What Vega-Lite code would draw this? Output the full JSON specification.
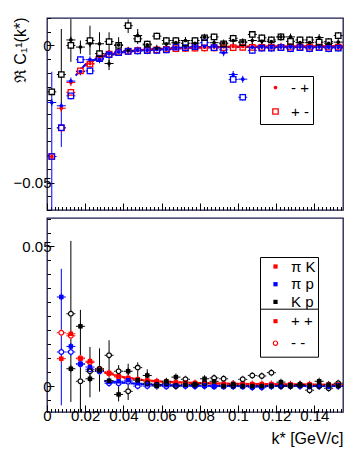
{
"$schema":"https://vega.github.io/schema/vega-lite/v6.json",
"padding":{"left":11,"top":16,"right":5,"bottom":5},
"bounds":"flush",
"spacing":8,
"config":{"font":"Liberation Sans","view":{"stroke":"#1a1a4a","strokeWidth":1.3},"axis":{"grid":false,"labelFont":"Liberation Sans","titleFont":"Liberation Sans"},"legend":{"labelFont":"Liberation Sans"}},
"resolve":{"scale":{"color":"independent","fill":"independent","stroke":"independent","shape":"independent"}},
"datasets":{
"top":[
{"k":0.0025,"s":"π K","c":"- +","v":-0.0405},{"k":0.0075,"s":"π K","c":"- +","v":-0.0229},{"k":0.0125,"s":"π K","c":"- +","v":-0.0135},{"k":0.0175,"s":"π K","c":"- +","v":-0.0096},{"k":0.0225,"s":"π K","c":"- +","v":-0.0066},{"k":0.0275,"s":"π K","c":"- +","v":-0.0042},{"k":0.0325,"s":"π K","c":"- +","v":-0.003},{"k":0.0375,"s":"π K","c":"- +","v":-0.0024},{"k":0.0425,"s":"π K","c":"- +","v":-0.002},{"k":0.0475,"s":"π K","c":"- +","v":-0.0018},{"k":0.0525,"s":"π K","c":"- +","v":-0.0016},{"k":0.0575,"s":"π K","c":"- +","v":-0.0014},{"k":0.0625,"s":"π K","c":"- +","v":-0.0012},{"k":0.0675,"s":"π K","c":"- +","v":-0.001},{"k":0.0725,"s":"π K","c":"- +","v":-0.0009},{"k":0.0775,"s":"π K","c":"- +","v":-0.0008},{"k":0.0825,"s":"π K","c":"- +","v":-0.0007},{"k":0.0875,"s":"π K","c":"- +","v":-0.0006},{"k":0.0925,"s":"π K","c":"- +","v":-0.0005},{"k":0.0975,"s":"π K","c":"- +","v":-0.0004},{"k":0.1025,"s":"π K","c":"- +","v":-0.0004},{"k":0.1075,"s":"π K","c":"- +","v":-0.0004},{"k":0.1125,"s":"π K","c":"- +","v":-0.0004},{"k":0.1175,"s":"π K","c":"- +","v":-0.0003},{"k":0.1225,"s":"π K","c":"- +","v":-0.0003},{"k":0.1275,"s":"π K","c":"- +","v":-0.0003},{"k":0.1325,"s":"π K","c":"- +","v":-0.0003},{"k":0.1375,"s":"π K","c":"- +","v":-0.0003},{"k":0.1425,"s":"π K","c":"- +","v":-0.0003},{"k":0.1475,"s":"π K","c":"- +","v":-0.0002},{"k":0.1525,"s":"π K","c":"- +","v":-0.0002},
{"k":0.0025,"s":"π K","c":"+ -","v":-0.0405},{"k":0.0075,"s":"π K","c":"+ -","v":-0.0301},{"k":0.0125,"s":"π K","c":"+ -","v":-0.0171},{"k":0.0175,"s":"π K","c":"+ -","v":-0.0093},{"k":0.0225,"s":"π K","c":"+ -","v":-0.0068},{"k":0.0275,"s":"π K","c":"+ -","v":-0.0046},{"k":0.0325,"s":"π K","c":"+ -","v":-0.0032},{"k":0.0375,"s":"π K","c":"+ -","v":-0.0025},{"k":0.0425,"s":"π K","c":"+ -","v":-0.0021},{"k":0.0475,"s":"π K","c":"+ -","v":-0.0019},{"k":0.0525,"s":"π K","c":"+ -","v":-0.0017},{"k":0.0575,"s":"π K","c":"+ -","v":-0.0016},{"k":0.0625,"s":"π K","c":"+ -","v":-0.0014},{"k":0.0675,"s":"π K","c":"+ -","v":-0.0012},{"k":0.0725,"s":"π K","c":"+ -","v":-0.0011},{"k":0.0775,"s":"π K","c":"+ -","v":-0.001},{"k":0.0825,"s":"π K","c":"+ -","v":-0.0009},{"k":0.0875,"s":"π K","c":"+ -","v":-0.0009},{"k":0.0925,"s":"π K","c":"+ -","v":-0.0008},{"k":0.0975,"s":"π K","c":"+ -","v":-0.0008},{"k":0.1025,"s":"π K","c":"+ -","v":-0.0007},{"k":0.1075,"s":"π K","c":"+ -","v":-0.0007},{"k":0.1125,"s":"π K","c":"+ -","v":-0.0007},{"k":0.1175,"s":"π K","c":"+ -","v":-0.0007},{"k":0.1225,"s":"π K","c":"+ -","v":-0.0007},{"k":0.1275,"s":"π K","c":"+ -","v":-0.0006},{"k":0.1325,"s":"π K","c":"+ -","v":-0.0006},{"k":0.1375,"s":"π K","c":"+ -","v":-0.0006},{"k":0.1425,"s":"π K","c":"+ -","v":-0.0006},{"k":0.1475,"s":"π K","c":"+ -","v":-0.0006},{"k":0.1525,"s":"π K","c":"+ -","v":-0.0006},
{"k":0.0025,"s":"π p","c":"- +","v":-0.0208},{"k":0.0075,"s":"π p","c":"- +","v":-0.022},{"k":0.0125,"s":"π p","c":"- +","v":-0.013},{"k":0.0175,"s":"π p","c":"- +","v":-0.0095},{"k":0.0225,"s":"π p","c":"- +","v":-0.0052},{"k":0.0275,"s":"π p","c":"- +","v":-0.0052},{"k":0.0325,"s":"π p","c":"- +","v":-0.003},{"k":0.0375,"s":"π p","c":"- +","v":-0.0024},{"k":0.0425,"s":"π p","c":"- +","v":-0.002},{"k":0.0475,"s":"π p","c":"- +","v":-0.0018},{"k":0.0525,"s":"π p","c":"- +","v":-0.0018},{"k":0.0575,"s":"π p","c":"- +","v":-0.0015},{"k":0.0625,"s":"π p","c":"- +","v":-0.0014},{"k":0.0675,"s":"π p","c":"- +","v":-0.0008},{"k":0.0725,"s":"π p","c":"- +","v":-0.0006},{"k":0.0775,"s":"π p","c":"- +","v":-0.0004},{"k":0.0825,"s":"π p","c":"- +","v":-0.0004},{"k":0.0875,"s":"π p","c":"- +","v":-0.0004},{"k":0.0925,"s":"π p","c":"- +","v":-0.0027},{"k":0.0975,"s":"π p","c":"- +","v":-0.0106},{"k":0.1025,"s":"π p","c":"- +","v":-0.0123},{"k":0.1075,"s":"π p","c":"- +","v":-0.0006},{"k":0.1125,"s":"π p","c":"- +","v":-0.0006},{"k":0.1175,"s":"π p","c":"- +","v":-0.0008},{"k":0.1225,"s":"π p","c":"- +","v":-0.0006},{"k":0.1275,"s":"π p","c":"- +","v":-0.0006},{"k":0.1325,"s":"π p","c":"- +","v":-0.0006},{"k":0.1375,"s":"π p","c":"- +","v":-0.0007},{"k":0.1425,"s":"π p","c":"- +","v":-0.0006},{"k":0.1475,"s":"π p","c":"- +","v":-0.0007},{"k":0.1525,"s":"π p","c":"- +","v":-0.0007},
{"k":0.0025,"s":"π p","c":"+ -","v":-0.0405},{"k":0.0075,"s":"π p","c":"+ -","v":-0.03},{"k":0.0125,"s":"π p","c":"+ -","v":-0.0184},{"k":0.0175,"s":"π p","c":"+ -","v":-0.0052},{"k":0.0225,"s":"π p","c":"+ -","v":-0.0093},{"k":0.0275,"s":"π p","c":"+ -","v":-0.0048},{"k":0.0325,"s":"π p","c":"+ -","v":-0.0034},{"k":0.0375,"s":"π p","c":"+ -","v":-0.0026},{"k":0.0425,"s":"π p","c":"+ -","v":-0.0022},{"k":0.0475,"s":"π p","c":"+ -","v":-0.002},{"k":0.0525,"s":"π p","c":"+ -","v":-0.0019},{"k":0.0575,"s":"π p","c":"+ -","v":-0.0018},{"k":0.0625,"s":"π p","c":"+ -","v":-0.0016},{"k":0.0675,"s":"π p","c":"+ -","v":-0.0006},{"k":0.0725,"s":"π p","c":"+ -","v":-0.0008},{"k":0.0775,"s":"π p","c":"+ -","v":-0.0004},{"k":0.0825,"s":"π p","c":"+ -","v":0.001},{"k":0.0875,"s":"π p","c":"+ -","v":-0.0008},{"k":0.0925,"s":"π p","c":"+ -","v":-0.0016},{"k":0.0975,"s":"π p","c":"+ -","v":-0.0124},{"k":0.1025,"s":"π p","c":"+ -","v":-0.0189},{"k":0.1075,"s":"π p","c":"+ -","v":-0.0018},{"k":0.1125,"s":"π p","c":"+ -","v":-0.001},{"k":0.1175,"s":"π p","c":"+ -","v":-0.001},{"k":0.1225,"s":"π p","c":"+ -","v":-0.0008},{"k":0.1275,"s":"π p","c":"+ -","v":-0.0012},{"k":0.1325,"s":"π p","c":"+ -","v":-0.0008},{"k":0.1375,"s":"π p","c":"+ -","v":-0.0012},{"k":0.1425,"s":"π p","c":"+ -","v":-0.0008},{"k":0.1475,"s":"π p","c":"+ -","v":-0.0012},{"k":0.1525,"s":"π p","c":"+ -","v":-0.001},
{"k":0.0125,"s":"K p","c":"- +","v":0.002},{"k":0.0175,"s":"K p","c":"- +","v":-0.0006},{"k":0.0225,"s":"K p","c":"- +","v":0.0006},{"k":0.0275,"s":"K p","c":"- +","v":0.0006},{"k":0.0325,"s":"K p","c":"- +","v":-0.0066},{"k":0.0375,"s":"K p","c":"- +","v":0.0002},{"k":0.0425,"s":"K p","c":"- +","v":-0.0018},{"k":0.0475,"s":"K p","c":"- +","v":0.0036},{"k":0.0525,"s":"K p","c":"- +","v":0.0002},{"k":0.0575,"s":"K p","c":"- +","v":-0.001},{"k":0.0625,"s":"K p","c":"- +","v":0.0005},{"k":0.0675,"s":"K p","c":"- +","v":0.001},{"k":0.0725,"s":"K p","c":"- +","v":0.0018},{"k":0.0775,"s":"K p","c":"- +","v":0.0008},{"k":0.0825,"s":"K p","c":"- +","v":0.003},{"k":0.0875,"s":"K p","c":"- +","v":0.001},{"k":0.0925,"s":"K p","c":"- +","v":0.0009},{"k":0.0975,"s":"K p","c":"- +","v":0.0018},{"k":0.1025,"s":"K p","c":"- +","v":0.0013},{"k":0.1075,"s":"K p","c":"- +","v":0.0018},{"k":0.1125,"s":"K p","c":"- +","v":0.0015},{"k":0.1175,"s":"K p","c":"- +","v":0.0014},{"k":0.1225,"s":"K p","c":"- +","v":0.0031},{"k":0.1275,"s":"K p","c":"- +","v":0.0031},{"k":0.1325,"s":"K p","c":"- +","v":0.001},{"k":0.1375,"s":"K p","c":"- +","v":0.001},{"k":0.1425,"s":"K p","c":"- +","v":0.0029},{"k":0.1475,"s":"K p","c":"- +","v":0.0008},{"k":0.1525,"s":"K p","c":"- +","v":0.0012},
{"k":0.0025,"s":"K p","c":"+ -","v":-0.0169},{"k":0.0075,"s":"K p","c":"+ -","v":-0.0106},{"k":0.0125,"s":"K p","c":"+ -","v":0.0},{"k":0.0225,"s":"K p","c":"+ -","v":0.0018},{"k":0.0275,"s":"K p","c":"+ -","v":-0.003},{"k":0.0325,"s":"K p","c":"+ -","v":0.0014},{"k":0.0375,"s":"K p","c":"+ -","v":0.0},{"k":0.0425,"s":"K p","c":"+ -","v":0.0072},{"k":0.0475,"s":"K p","c":"+ -","v":0.0024},{"k":0.0525,"s":"K p","c":"+ -","v":0.0005},{"k":0.0575,"s":"K p","c":"+ -","v":0.0034},{"k":0.0625,"s":"K p","c":"+ -","v":0.0018},{"k":0.0675,"s":"K p","c":"+ -","v":0.0018},{"k":0.0725,"s":"K p","c":"+ -","v":0.0008},{"k":0.0775,"s":"K p","c":"+ -","v":0.0018},{"k":0.0825,"s":"K p","c":"+ -","v":0.0028},{"k":0.0875,"s":"K p","c":"+ -","v":0.0031},{"k":0.0925,"s":"K p","c":"+ -","v":0.0006},{"k":0.0975,"s":"K p","c":"+ -","v":0.0026},{"k":0.1025,"s":"K p","c":"+ -","v":0.001},{"k":0.1075,"s":"K p","c":"+ -","v":0.004},{"k":0.1125,"s":"K p","c":"+ -","v":0.0028},{"k":0.1175,"s":"K p","c":"+ -","v":0.002},{"k":0.1225,"s":"K p","c":"+ -","v":0.0031},{"k":0.1275,"s":"K p","c":"+ -","v":0.0015},{"k":0.1325,"s":"K p","c":"+ -","v":0.002},{"k":0.1375,"s":"K p","c":"+ -","v":0.002},{"k":0.1425,"s":"K p","c":"+ -","v":0.0012},{"k":0.1475,"s":"K p","c":"+ -","v":0.0014},{"k":0.1525,"s":"K p","c":"+ -","v":0.0036}
],
"topErr":[
{"k":0.0025,"s":"π p","lo":-0.06,"hi":-0.0096},{"k":0.0075,"s":"π p","lo":-0.037,"hi":-0.022},{"k":0.0075,"s":"K p","lo":-0.024,"hi":0.006},{"k":0.0125,"s":"K p","lo":-0.006,"hi":0.0096},{"k":0.0175,"s":"K p","lo":-0.003,"hi":0.0018},{"k":0.0225,"s":"K p","lo":-0.0036,"hi":0.0072},{"k":0.0275,"s":"K p","lo":-0.003,"hi":0.0048},{"k":0.0325,"s":"K p","lo":-0.009,"hi":0.0048},{"k":0.0375,"s":"K p","lo":-0.003,"hi":0.003},{"k":0.0425,"s":"K p","lo":0.0045,"hi":0.0095},{"k":0.0475,"s":"K p","lo":0.0005,"hi":0.006}
],
"topFit":[
{"k":0.02,"s":"π K","v":-0.0075},{"k":0.025,"s":"π K","v":-0.0052},{"k":0.03,"s":"π K","v":-0.0037},{"k":0.04,"s":"π K","v":-0.0023},{"k":0.05,"s":"π K","v":-0.0016},{"k":0.06,"s":"π K","v":-0.0012},{"k":0.08,"s":"π K","v":-0.0007},{"k":0.1,"s":"π K","v":-0.0004},{"k":0.155,"s":"π K","v":-0.0002},
{"k":0.015,"s":"π p","v":-0.011},{"k":0.02,"s":"π p","v":-0.007},{"k":0.025,"s":"π p","v":-0.0052},{"k":0.03,"s":"π p","v":-0.004},{"k":0.04,"s":"π p","v":-0.0025},{"k":0.05,"s":"π p","v":-0.0018},{"k":0.06,"s":"π p","v":-0.0014},{"k":0.08,"s":"π p","v":-0.0008},{"k":0.1,"s":"π p","v":-0.0006},{"k":0.155,"s":"π p","v":-0.0006}
],
"bot":[
{"k":0.0075,"s":"π K","c":"+ +","v":0.0098},{"k":0.0125,"s":"π K","c":"+ +","v":0.0187},{"k":0.0175,"s":"π K","c":"+ +","v":0.0098},{"k":0.0225,"s":"π K","c":"+ +","v":0.0089},{"k":0.0275,"s":"π K","c":"+ +","v":0.006},{"k":0.0325,"s":"π K","c":"+ +","v":0.0047},{"k":0.0375,"s":"π K","c":"+ +","v":0.0035},{"k":0.0425,"s":"π K","c":"+ +","v":0.0029},{"k":0.0475,"s":"π K","c":"+ +","v":0.0024},{"k":0.0525,"s":"π K","c":"+ +","v":0.002},{"k":0.0575,"s":"π K","c":"+ +","v":0.0017},{"k":0.0625,"s":"π K","c":"+ +","v":0.0015},{"k":0.0675,"s":"π K","c":"+ +","v":0.0013},{"k":0.0725,"s":"π K","c":"+ +","v":0.0012},{"k":0.0775,"s":"π K","c":"+ +","v":0.0011},{"k":0.0825,"s":"π K","c":"+ +","v":0.001},{"k":0.0875,"s":"π K","c":"+ +","v":0.0009},{"k":0.0925,"s":"π K","c":"+ +","v":0.0008},{"k":0.0975,"s":"π K","c":"+ +","v":0.0008},{"k":0.1025,"s":"π K","c":"+ +","v":0.0008},{"k":0.1075,"s":"π K","c":"+ +","v":0.0007},{"k":0.1125,"s":"π K","c":"+ +","v":0.0007},{"k":0.1175,"s":"π K","c":"+ +","v":0.0007},{"k":0.1225,"s":"π K","c":"+ +","v":0.0006},{"k":0.1275,"s":"π K","c":"+ +","v":0.0006},{"k":0.1325,"s":"π K","c":"+ +","v":0.0006},{"k":0.1375,"s":"π K","c":"+ +","v":0.0006},{"k":0.1425,"s":"π K","c":"+ +","v":0.0005},{"k":0.1475,"s":"π K","c":"+ +","v":0.0005},{"k":0.1525,"s":"π K","c":"+ +","v":0.0005},
{"k":0.0075,"s":"π K","c":"- -","v":0.0191},{"k":0.0125,"s":"π K","c":"- -","v":0.018},{"k":0.0175,"s":"π K","c":"- -","v":0.01},{"k":0.0225,"s":"π K","c":"- -","v":0.0085},{"k":0.0275,"s":"π K","c":"- -","v":0.0058},{"k":0.0325,"s":"π K","c":"- -","v":0.0045},{"k":0.0375,"s":"π K","c":"- -","v":0.0033},{"k":0.0425,"s":"π K","c":"- -","v":0.0027},{"k":0.0475,"s":"π K","c":"- -","v":0.0022},{"k":0.0525,"s":"π K","c":"- -","v":0.0018},{"k":0.0575,"s":"π K","c":"- -","v":0.0015},{"k":0.0625,"s":"π K","c":"- -","v":0.0013},{"k":0.0675,"s":"π K","c":"- -","v":0.0011},{"k":0.0725,"s":"π K","c":"- -","v":0.001},{"k":0.0775,"s":"π K","c":"- -","v":0.0009},{"k":0.0825,"s":"π K","c":"- -","v":0.0008},{"k":0.0875,"s":"π K","c":"- -","v":0.0007},{"k":0.0925,"s":"π K","c":"- -","v":0.0006},{"k":0.0975,"s":"π K","c":"- -","v":0.0006},{"k":0.1025,"s":"π K","c":"- -","v":0.0006},{"k":0.1075,"s":"π K","c":"- -","v":0.0005},{"k":0.1125,"s":"π K","c":"- -","v":0.0005},{"k":0.1175,"s":"π K","c":"- -","v":0.0005},{"k":0.1225,"s":"π K","c":"- -","v":0.0004},{"k":0.1275,"s":"π K","c":"- -","v":0.0004},{"k":0.1325,"s":"π K","c":"- -","v":0.0004},{"k":0.1375,"s":"π K","c":"- -","v":0.0004},{"k":0.1425,"s":"π K","c":"- -","v":0.0003},{"k":0.1475,"s":"π K","c":"- -","v":0.0003},{"k":0.1525,"s":"π K","c":"- -","v":0.0003},
{"k":0.0075,"s":"π p","c":"+ +","v":0.0319},{"k":0.0125,"s":"π p","c":"+ +","v":0.0142},{"k":0.0175,"s":"π p","c":"+ +","v":0.008},{"k":0.0225,"s":"π p","c":"+ +","v":0.0068},{"k":0.0275,"s":"π p","c":"+ +","v":0.0056},{"k":0.0325,"s":"π p","c":"+ +","v":0.0015},{"k":0.0375,"s":"π p","c":"+ +","v":0.0017},{"k":0.0425,"s":"π p","c":"+ +","v":0.0021},{"k":0.0475,"s":"π p","c":"+ +","v":0.001},{"k":0.0525,"s":"π p","c":"+ +","v":0.0006},{"k":0.0575,"s":"π p","c":"+ +","v":0.0004},{"k":0.0625,"s":"π p","c":"+ +","v":0.0003},{"k":0.0675,"s":"π p","c":"+ +","v":0.0003},{"k":0.0725,"s":"π p","c":"+ +","v":0.0002},{"k":0.0775,"s":"π p","c":"+ +","v":0.0001},{"k":0.0825,"s":"π p","c":"+ +","v":0.0001},{"k":0.0875,"s":"π p","c":"+ +","v":-0.0001},{"k":0.0925,"s":"π p","c":"+ +","v":-0.0001},{"k":0.0975,"s":"π p","c":"+ +","v":-0.0002},{"k":0.1025,"s":"π p","c":"+ +","v":-0.0002},{"k":0.1075,"s":"π p","c":"+ +","v":-0.0003},{"k":0.1125,"s":"π p","c":"+ +","v":-0.0003},{"k":0.1175,"s":"π p","c":"+ +","v":0.0},{"k":0.1225,"s":"π p","c":"+ +","v":0.0},{"k":0.1275,"s":"π p","c":"+ +","v":0.0},{"k":0.1325,"s":"π p","c":"+ +","v":0.0},{"k":0.1375,"s":"π p","c":"+ +","v":-0.0001},{"k":0.1425,"s":"π p","c":"+ +","v":0.0},{"k":0.1475,"s":"π p","c":"+ +","v":0.0},{"k":0.1525,"s":"π p","c":"+ +","v":0.0001},
{"k":0.0075,"s":"π p","c":"- -","v":0.0122},{"k":0.0125,"s":"π p","c":"- -","v":0.0122},{"k":0.0175,"s":"π p","c":"- -","v":0.0078},{"k":0.0225,"s":"π p","c":"- -","v":0.006},{"k":0.0275,"s":"π p","c":"- -","v":0.0052},{"k":0.0325,"s":"π p","c":"- -","v":0.001},{"k":0.0375,"s":"π p","c":"- -","v":0.001},{"k":0.0425,"s":"π p","c":"- -","v":0.0015},{"k":0.0475,"s":"π p","c":"- -","v":0.0},{"k":0.0525,"s":"π p","c":"- -","v":0.0},{"k":0.0575,"s":"π p","c":"- -","v":0.0001},{"k":0.0625,"s":"π p","c":"- -","v":-0.0002},{"k":0.0675,"s":"π p","c":"- -","v":0.0},{"k":0.0725,"s":"π p","c":"- -","v":0.0},{"k":0.0775,"s":"π p","c":"- -","v":-0.0001},{"k":0.0825,"s":"π p","c":"- -","v":0.0},{"k":0.0875,"s":"π p","c":"- -","v":-0.0002},{"k":0.0925,"s":"π p","c":"- -","v":-0.0002},{"k":0.0975,"s":"π p","c":"- -","v":-0.0001},{"k":0.1025,"s":"π p","c":"- -","v":-0.0002},{"k":0.1075,"s":"π p","c":"- -","v":-0.0004},{"k":0.1125,"s":"π p","c":"- -","v":-0.0004},{"k":0.1175,"s":"π p","c":"- -","v":-0.0001},{"k":0.1225,"s":"π p","c":"- -","v":-0.0001},{"k":0.1275,"s":"π p","c":"- -","v":0.0},{"k":0.1325,"s":"π p","c":"- -","v":0.0},{"k":0.1375,"s":"π p","c":"- -","v":-0.0002},{"k":0.1425,"s":"π p","c":"- -","v":0.0},{"k":0.1475,"s":"π p","c":"- -","v":-0.0001},{"k":0.1525,"s":"π p","c":"- -","v":0.0},
{"k":0.0125,"s":"K p","c":"+ +","v":0.0062},{"k":0.0175,"s":"K p","c":"+ +","v":0.0214},{"k":0.0225,"s":"K p","c":"+ +","v":0.0026},{"k":0.0275,"s":"K p","c":"+ +","v":0.0056},{"k":0.0325,"s":"K p","c":"+ +","v":0.0019},{"k":0.0375,"s":"K p","c":"+ +","v":-0.003},{"k":0.0425,"s":"K p","c":"+ +","v":0.0053},{"k":0.0475,"s":"K p","c":"+ +","v":0.0021},{"k":0.0525,"s":"K p","c":"+ +","v":0.0038},{"k":0.0575,"s":"K p","c":"+ +","v":0.0},{"k":0.0625,"s":"K p","c":"+ +","v":0.0017},{"k":0.0675,"s":"K p","c":"+ +","v":0.0032},{"k":0.0725,"s":"K p","c":"+ +","v":0.0005},{"k":0.0775,"s":"K p","c":"+ +","v":0.0007},{"k":0.0825,"s":"K p","c":"+ +","v":0.0026},{"k":0.0875,"s":"K p","c":"+ +","v":0.0017},{"k":0.0925,"s":"K p","c":"+ +","v":0.0},{"k":0.0975,"s":"K p","c":"+ +","v":0.0007},{"k":0.1025,"s":"K p","c":"+ +","v":0.0},{"k":0.1075,"s":"K p","c":"+ +","v":0.0},{"k":0.1125,"s":"K p","c":"+ +","v":0.0},{"k":0.1175,"s":"K p","c":"+ +","v":0.0},{"k":0.1225,"s":"K p","c":"+ +","v":0.0014},{"k":0.1275,"s":"K p","c":"+ +","v":0.0003},{"k":0.1325,"s":"K p","c":"+ +","v":0.0006},{"k":0.1375,"s":"K p","c":"+ +","v":0.0002},{"k":0.1425,"s":"K p","c":"+ +","v":0.0017},{"k":0.1475,"s":"K p","c":"+ +","v":0.0005},{"k":0.1525,"s":"K p","c":"+ +","v":0.0},
{"k":0.0125,"s":"K p","c":"- -","v":0.0259},{"k":0.0175,"s":"K p","c":"- -","v":0.0017},{"k":0.0225,"s":"K p","c":"- -","v":0.0053},{"k":0.0275,"s":"K p","c":"- -","v":0.0062},{"k":0.0325,"s":"K p","c":"- -","v":0.011},{"k":0.0375,"s":"K p","c":"- -","v":0.0053},{"k":0.0425,"s":"K p","c":"- -","v":-0.0019},{"k":0.0475,"s":"K p","c":"- -","v":0.0066},{"k":0.0525,"s":"K p","c":"- -","v":0.001},{"k":0.0575,"s":"K p","c":"- -","v":0.0005},{"k":0.0625,"s":"K p","c":"- -","v":0.001},{"k":0.0675,"s":"K p","c":"- -","v":0.0},{"k":0.0725,"s":"K p","c":"- -","v":0.0024},{"k":0.0775,"s":"K p","c":"- -","v":0.0005},{"k":0.0825,"s":"K p","c":"- -","v":0.001},{"k":0.0875,"s":"K p","c":"- -","v":0.0029},{"k":0.0925,"s":"K p","c":"- -","v":0.0026},{"k":0.0975,"s":"K p","c":"- -","v":0.0002},{"k":0.1025,"s":"K p","c":"- -","v":0.0024},{"k":0.1075,"s":"K p","c":"- -","v":0.0038},{"k":0.1125,"s":"K p","c":"- -","v":0.0036},{"k":0.1175,"s":"K p","c":"- -","v":0.0048},{"k":0.1225,"s":"K p","c":"- -","v":0.0},{"k":0.1275,"s":"K p","c":"- -","v":0.0},{"k":0.1325,"s":"K p","c":"- -","v":0.0003},{"k":0.1375,"s":"K p","c":"- -","v":-0.0015},{"k":0.1425,"s":"K p","c":"- -","v":0.0},{"k":0.1475,"s":"K p","c":"- -","v":-0.0008},{"k":0.1525,"s":"K p","c":"- -","v":0.001}
],
"botErr":[
{"k":0.0075,"s":"π p","lo":-0.0069,"hi":0.042},{"k":0.0125,"s":"K p","lo":-0.0057,"hi":0.052},{"k":0.0175,"s":"K p","lo":-0.012,"hi":0.0273},{"k":0.0225,"s":"K p","lo":-0.004,"hi":0.014},{"k":0.0275,"s":"K p","lo":-0.002,"hi":0.0135},{"k":0.0325,"s":"K p","lo":0.0056,"hi":0.0164},{"k":0.0375,"s":"K p","lo":-0.0055,"hi":0.0075},{"k":0.0425,"s":"K p","lo":-0.005,"hi":0.008},{"k":0.0475,"s":"K p","lo":0.0,"hi":0.0085},{"k":0.0525,"s":"K p","lo":0.0,"hi":0.006}
],
"botFit":[
{"k":0.03,"s":"π K","v":0.005},{"k":0.035,"s":"π K","v":0.004},{"k":0.04,"s":"π K","v":0.0032},{"k":0.05,"s":"π K","v":0.0022},{"k":0.06,"s":"π K","v":0.0016},{"k":0.08,"s":"π K","v":0.0011},{"k":0.1,"s":"π K","v":0.0008},{"k":0.155,"s":"π K","v":0.0005},
{"k":0.03,"s":"π p","v":0.0018},{"k":0.04,"s":"π p","v":0.0012},{"k":0.05,"s":"π p","v":0.0006},{"k":0.07,"s":"π p","v":0.0002},{"k":0.155,"s":"π p","v":0.0}
]
},
"vconcat":[
{
"width":296,"height":192,
"resolve":{"axis":{"x":"independent","y":"independent"}},
"layer":[
{"mark":{"type":"rule","strokeDash":[2,2],"color":"black","strokeWidth":1},
 "encoding":{"y":{"datum":0,"type":"quantitative","scale":{"domain":[-0.06,0.01],"nice":false,"zero":false},"axis":null}}},
{"data":{"name":"topFit"},"mark":{"type":"line","strokeWidth":2,"clip":true},
 "encoding":{
  "x":{"field":"k","type":"quantitative","scale":{"domain":[0,0.155],"nice":false,"zero":false},
   "axis":{"orient":"bottom","values":[0,0.002,0.004,0.006,0.008,0.01,0.012,0.014,0.016,0.018,0.02,0.022,0.024,0.026,0.028,0.03,0.032,0.034,0.036,0.038,0.04,0.042,0.044,0.046,0.048,0.05,0.052,0.054,0.056,0.058,0.06,0.062,0.064,0.066,0.068,0.07,0.072,0.074,0.076,0.078,0.08,0.082,0.084,0.086,0.088,0.09,0.092,0.094,0.096,0.098,0.1,0.102,0.104,0.106,0.108,0.11,0.112,0.114,0.116,0.118,0.12,0.122,0.124,0.126,0.128,0.13,0.132,0.134,0.136,0.138,0.14,0.142,0.144,0.146,0.148,0.15,0.152,0.154],"labels":false,"domain":false,"tickSize":-3.5,"tickColor":"black","title":null}},
  "y":{"field":"v","type":"quantitative","scale":{"domain":[-0.06,0.01],"nice":false,"zero":false},
   "axis":{"orient":"left","values":[-0.06,-0.055,-0.05,-0.045,-0.04,-0.035,-0.03,-0.025,-0.02,-0.015,-0.01,-0.005,0,0.005,0.01],"labels":false,"domain":false,"tickSize":-3.5,"tickColor":"black","title":null}},
  "stroke":{"field":"s","type":"nominal","scale":{"domain":["K p","π K","π p"],"range":["#000000","#ff0000","#0000ff"]},"legend":null}}},
{"data":{"name":"topErr"},"mark":{"type":"rule","strokeWidth":1,"clip":true},
 "encoding":{
  "x":{"field":"k","type":"quantitative","scale":{"domain":[0,0.155],"nice":false,"zero":false},"axis":null},
  "y":{"field":"lo","type":"quantitative","scale":{"domain":[-0.06,0.01],"nice":false,"zero":false},"axis":null},
  "y2":{"field":"hi"},
  "stroke":{"field":"s","type":"nominal","scale":{"domain":["K p","π K","π p"],"range":["#000000","#ff0000","#0000ff"]},"legend":null}}},
{"data":{"name":"top"},"mark":{"type":"tick","orient":"horizontal","size":9,"thickness":1,"opacity":1},
 "encoding":{
  "x":{"field":"k","type":"quantitative","scale":{"domain":[0,0.155],"nice":false,"zero":false},"axis":null},
  "y":{"field":"v","type":"quantitative","scale":{"domain":[-0.06,0.01],"nice":false,"zero":false},"axis":null},
  "fill":{"field":"s","type":"nominal","scale":{"domain":["K p","π K","π p"],"range":["#000000","#ff0000","#0000ff"]},"legend":null}}},
{"data":{"name":"top"},"mark":{"type":"tick","orient":"vertical","size":7,"thickness":1,"opacity":1},
 "encoding":{
  "x":{"field":"k","type":"quantitative","scale":{"domain":[0,0.155],"nice":false,"zero":false},"axis":null},
  "y":{"field":"v","type":"quantitative","scale":{"domain":[-0.06,0.01],"nice":false,"zero":false},"axis":null},
  "fill":{"field":"s","type":"nominal","scale":{"domain":["K p","π K","π p"],"range":["#000000","#ff0000","#0000ff"]},"legend":null}}},
{"data":{"name":"top"},"transform":[{"filter":"datum.c == '+ -'"}],"mark":{"type":"point","filled":true,"opacity":1,"size":45,"strokeWidth":0,"color":"white","shape":"M-0.7,-0.7H0.7V0.7H-0.7Z"},
 "encoding":{
  "x":{"field":"k","type":"quantitative","scale":{"domain":[0,0.155],"nice":false,"zero":false},"axis":null},
  "y":{"field":"v","type":"quantitative","scale":{"domain":[-0.06,0.01],"nice":false,"zero":false},"axis":null}}},
{"data":{"name":"top"},"mark":{"type":"point","filled":true,"opacity":1,"size":45,"strokeWidth":0},
 "encoding":{
  "x":{"field":"k","type":"quantitative","scale":{"domain":[0,0.155],"nice":false,"zero":false},
   "axis":{"orient":"bottom","values":[0,0.02,0.04,0.06,0.08,0.1,0.12,0.14],"labels":false,"domain":false,"tickSize":-7,"tickColor":"black","title":null}},
  "y":{"field":"v","type":"quantitative","scale":{"domain":[-0.06,0.01],"nice":false,"zero":false},
   "axis":{"orient":"left","values":[-0.05,0],"format":"~g","labelFontSize":15,"labelPadding":3,"labelColor":"black","domain":false,"tickSize":-7,"tickColor":"black","title":"ℜ C₁¹(k*)","titleFontSize":16,"titleFontWeight":"normal","titleColor":"black","titleAngle":-90,"titleAlign":"right","titleBaseline":"alphabetic","titleX":-22,"titleY":-1}},
  "color":{"field":"s","type":"nominal","scale":{"domain":["π K","π p","K p"],"range":["#ff0000","#0000ff","#000000"]},"legend":null},
  "shape":{"field":"c","type":"nominal","scale":{"domain":["- +","+ -"],"range":["M-0.55,0A0.55,0.55,0,1,1,0.55,0A0.55,0.55,0,1,1,-0.55,0Z","M-1,-1H1V1H-1ZM-0.62,-0.62V0.62H0.62V-0.62Z"]},
   "legend":{"title":null,"orient":"none","legendX":213,"legendY":58,"padding":4,"fillColor":"white","strokeColor":"black","cornerRadius":0,"symbolFillColor":"#ff0000","symbolStrokeWidth":0,"symbolSize":45,"symbolOffset":4,"labelOffset":8,"labelFontSize":15,"labelColor":"black","rowPadding":8,"labelExpr":"datum.label + '\u00a0\u00a0\u00a0\u00a0\u00a0\u00a0\u00a0\u00a0\u00a0'"}}}}
]
},
{
"width":296,"height":194,
"resolve":{"axis":{"x":"independent","y":"independent"}},
"layer":[
{"mark":{"type":"rule","strokeDash":[2,2],"color":"black","strokeWidth":1},
 "encoding":{"y":{"datum":0,"type":"quantitative","scale":{"domain":[-0.0093,0.0602],"nice":false,"zero":false},"axis":null}}},
{"data":{"name":"botFit"},"mark":{"type":"line","strokeWidth":2,"clip":true},
 "encoding":{
  "x":{"field":"k","type":"quantitative","scale":{"domain":[0,0.155],"nice":false,"zero":false},
   "axis":{"orient":"bottom","values":[0,0.002,0.004,0.006,0.008,0.01,0.012,0.014,0.016,0.018,0.02,0.022,0.024,0.026,0.028,0.03,0.032,0.034,0.036,0.038,0.04,0.042,0.044,0.046,0.048,0.05,0.052,0.054,0.056,0.058,0.06,0.062,0.064,0.066,0.068,0.07,0.072,0.074,0.076,0.078,0.08,0.082,0.084,0.086,0.088,0.09,0.092,0.094,0.096,0.098,0.1,0.102,0.104,0.106,0.108,0.11,0.112,0.114,0.116,0.118,0.12,0.122,0.124,0.126,0.128,0.13,0.132,0.134,0.136,0.138,0.14,0.142,0.144,0.146,0.148,0.15,0.152,0.154],"labels":false,"domain":false,"tickSize":-3.5,"tickColor":"black","title":null}},
  "y":{"field":"v","type":"quantitative","scale":{"domain":[-0.0093,0.0602],"nice":false,"zero":false},
   "axis":{"orient":"left","values":[-0.005,0,0.005,0.01,0.015,0.02,0.025,0.03,0.035,0.04,0.045,0.05,0.055,0.06],"labels":false,"domain":false,"tickSize":-3.5,"tickColor":"black","title":null}},
  "stroke":{"field":"s","type":"nominal","scale":{"domain":["K p","π K","π p"],"range":["#000000","#ff0000","#0000ff"]},"legend":null}}},
{"data":{"name":"botErr"},"mark":{"type":"rule","strokeWidth":1,"clip":true},
 "encoding":{
  "x":{"field":"k","type":"quantitative","scale":{"domain":[0,0.155],"nice":false,"zero":false},"axis":null},
  "y":{"field":"lo","type":"quantitative","scale":{"domain":[-0.0093,0.0602],"nice":false,"zero":false},"axis":null},
  "y2":{"field":"hi"},
  "stroke":{"field":"s","type":"nominal","scale":{"domain":["K p","π K","π p"],"range":["#000000","#ff0000","#0000ff"]},"legend":null}}},
{"data":{"name":"bot"},"mark":{"type":"tick","orient":"horizontal","size":9,"thickness":1,"opacity":1},
 "encoding":{
  "x":{"field":"k","type":"quantitative","scale":{"domain":[0,0.155],"nice":false,"zero":false},"axis":null},
  "y":{"field":"v","type":"quantitative","scale":{"domain":[-0.0093,0.0602],"nice":false,"zero":false},"axis":null},
  "fill":{"field":"s","type":"nominal","scale":{"domain":["K p","π K","π p"],"range":["#000000","#ff0000","#0000ff"]},"legend":null}}},
{"data":{"name":"bot"},"mark":{"type":"tick","orient":"vertical","size":7,"thickness":1,"opacity":1},
 "encoding":{
  "x":{"field":"k","type":"quantitative","scale":{"domain":[0,0.155],"nice":false,"zero":false},"axis":null},
  "y":{"field":"v","type":"quantitative","scale":{"domain":[-0.0093,0.0602],"nice":false,"zero":false},"axis":null},
  "fill":{"field":"s","type":"nominal","scale":{"domain":["K p","π K","π p"],"range":["#000000","#ff0000","#0000ff"]},"legend":null}}},
{"data":{"name":"bot"},"transform":[{"filter":"datum.c == '- -'"}],"mark":{"type":"point","filled":true,"opacity":1,"size":36,"strokeWidth":0,"color":"white","shape":"circle"},
 "encoding":{
  "x":{"field":"k","type":"quantitative","scale":{"domain":[0,0.155],"nice":false,"zero":false},"axis":null},
  "y":{"field":"v","type":"quantitative","scale":{"domain":[-0.0093,0.0602],"nice":false,"zero":false},"axis":null}}},
{"data":{"name":"bot"},"mark":{"type":"point","filled":true,"opacity":1,"size":36,"strokeWidth":0},
 "encoding":{
  "x":{"field":"k","type":"quantitative","scale":{"domain":[0,0.155],"nice":false,"zero":false},
   "axis":{"orient":"bottom","values":[0,0.02,0.04,0.06,0.08,0.1,0.12,0.14],"format":"~g","labelFontSize":15,"labelPadding":3,"labelColor":"black","domain":false,"tickSize":-7,"tickColor":"black","labelFlush":false,"labelOverlap":false,"title":"k* [GeV/c]","titleFontSize":16,"titleFontWeight":"normal","titleColor":"black","titleAlign":"right","titleBaseline":"alphabetic","titleX":296,"titleY":31}},
  "y":{"field":"v","type":"quantitative","scale":{"domain":[-0.0093,0.0602],"nice":false,"zero":false},
   "axis":{"orient":"left","values":[0,0.05],"format":"~g","labelFontSize":15,"labelPadding":3,"labelColor":"black","domain":false,"tickSize":-7,"tickColor":"black","title":null}},
  "color":{"field":"s","type":"nominal","scale":{"domain":["π K","π p","K p"],"range":["#ff0000","#0000ff","#000000"]},
   "legend":{"title":null,"orient":"none","legendX":213,"legendY":39,"padding":2,"fillColor":"white","strokeColor":"black","cornerRadius":0,"symbolType":"square","symbolSize":18,"symbolStrokeWidth":0,"symbolOffset":6,"labelOffset":8,"labelFontSize":15,"labelColor":"black","rowPadding":1.7,"labelExpr":"datum.label + '\u00a0\u00a0\u00a0\u00a0\u00a0\u00a0\u00a0\u00a0'"}},
  "shape":{"field":"c","type":"nominal","scale":{"domain":["+ +","- -"],"range":["M-0.75,-0.75H0.75V0.75H-0.75Z","M-1,0A1,1,0,1,1,1,0A1,1,0,1,1,-1,0ZM-0.58,0A0.58,0.58,0,1,0,0.58,0A0.58,0.58,0,1,0,-0.58,0Z"]},
   "legend":{"title":null,"orient":"none","legendX":213,"legendY":90.7,"padding":5,"fillColor":"white","strokeColor":"black","cornerRadius":0,"symbolFillColor":"#ff0000","symbolStrokeWidth":0,"symbolSize":30,"symbolOffset":3,"labelOffset":8,"labelFontSize":15,"labelColor":"black","rowPadding":6,"labelExpr":"datum.label + '\u00a0\u00a0\u00a0\u00a0\u00a0\u00a0\u00a0\u00a0'"}}}}
]
}
]
}
